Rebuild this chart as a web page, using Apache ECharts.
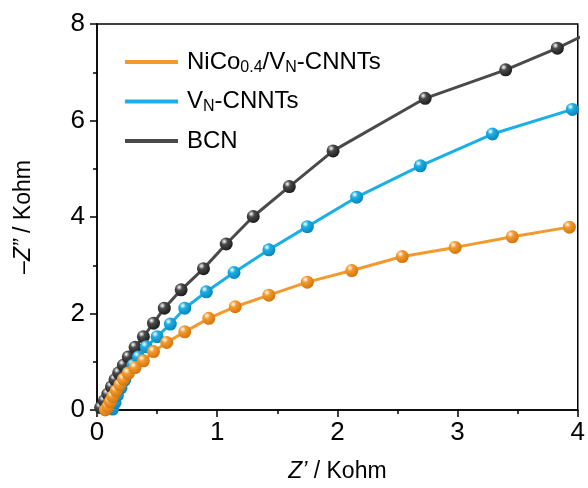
<!DOCTYPE html>
<html>
<head>
<meta charset="utf-8">
<script src="https://cdn.jsdelivr.net/npm/echarts@6/dist/echarts.min.js"></script>
<style>
  html, body { margin: 0; padding: 0; background: #fff; }
  #chart { width: 588px; height: 488px; }
</style>
</head>
<body>
<div id="chart"></div>
<script>
// Nyquist data (Kohm)
const bcnX = [0.03, 0.06, 0.09, 0.12, 0.15, 0.18, 0.22, 0.26, 0.317, 0.386, 0.47, 0.56, 0.70, 0.886, 1.075, 1.30, 1.60, 1.964, 2.73, 3.40, 3.83, 4.2];
const bcnY = [0.05, 0.19, 0.33, 0.48, 0.63, 0.77, 0.93, 1.10, 1.30, 1.52, 1.80, 2.11, 2.49, 2.93, 3.44, 4.01, 4.63, 5.37, 6.46, 7.05, 7.50, 7.95];

const vnX = [0.13, 0.15, 0.17, 0.20, 0.23, 0.26, 0.30, 0.345, 0.41, 0.50, 0.61, 0.73, 0.91, 1.14, 1.43, 1.75, 2.16, 2.69, 3.29, 3.955];
const vnY = [0.02, 0.15, 0.30, 0.46, 0.62, 0.77, 0.93, 1.10, 1.31, 1.52, 1.78, 2.11, 2.45, 2.85, 3.32, 3.80, 4.41, 5.06, 5.72, 6.23];

const nicoX = [0.07, 0.09, 0.11, 0.13, 0.16, 0.19, 0.22, 0.26, 0.317, 0.386, 0.47, 0.58, 0.73, 0.93, 1.15, 1.43, 1.75, 2.12, 2.54, 2.98, 3.455, 3.93];
const nicoY = [0.00, 0.07, 0.17, 0.28, 0.40, 0.52, 0.64, 0.76, 0.88, 1.02, 1.21, 1.40, 1.62, 1.90, 2.14, 2.38, 2.65, 2.89, 3.18, 3.37, 3.59, 3.79];

const xTicks = [0, 1, 2, 3, 4];
const yTicks = [0, 2, 4, 6, 8];

const font = 'Liberation Sans, Arial, sans-serif';

const pairs = (xs, ys) => xs.map((x, i) => [x, ys[i]]);

const ball = (base, dark) => new echarts.graphic.RadialGradient(0.35, 0.3, 0.7, [
    { offset: 0, color: '#ffffff' },
    { offset: 0.35, color: base },
    { offset: 1, color: dark },
]);

const makeSeries = (name, data, color, dark, z) => ({
    name: name,
    type: 'line',
    data: data,
    z: z,
    symbol: 'circle',
    symbolSize: 13,
    showSymbol: true,
    lineStyle: { color: color, width: 3 },
    itemStyle: { color: ball(color, dark), borderWidth: 0 },
    emphasis: { disabled: true },
    clip: true,
});

const italic = { fontStyle: 'italic', fontSize: 23, fontFamily: font, color: '#000' };

const chart = echarts.init(document.getElementById('chart'));
chart.setOption({
    animation: false,
    backgroundColor: '#fff',
    grid: { left: 97, right: 10, top: 24, bottom: 78, show: true, borderColor: '#000', borderWidth: 1.5, backgroundColor: 'transparent' },
    legend: {
        orient: 'vertical',
        left: 125,
        top: 50,
        padding: 0,
        itemWidth: 53,
        itemHeight: 4,
        itemGap: 14,
        icon: 'rect',
        data: [
            { name: 'NiCo', itemStyle: { color: '#f39a2e' } },
            { name: 'VN', itemStyle: { color: '#1aafe6' } },
            { name: 'BCN', itemStyle: { color: '#4a4a4a' } },
        ],
        formatter: n => ({
            NiCo: '{n|NiCo}{s|0.4}{n|/V}{s|N}{n|-CNNTs}',
            VN: '{n|V}{s|N}{n|-CNNTs}',
            BCN: '{n|BCN}',
        }[n]),
        textStyle: {
            fontFamily: font,
            color: '#000',
            padding: [0, 0, 0, 4],
            rich: {
                n: { fontSize: 24, fontFamily: font, color: '#000' },
                s: { fontSize: 16, fontFamily: font, color: '#000', padding: [11, 0, 0, 0] },
            },
        },
    },
    xAxis: {
        type: 'value',
        min: 0,
        max: 4,
        interval: 1,
        name: '{i|Z’} / Kohm',
        nameLocation: 'middle',
        nameGap: 50,
        nameTextStyle: { fontFamily: font, fontSize: 23, color: '#000', rich: { i: italic } },
        axisLine: { onZero: false, lineStyle: { color: '#000', width: 1.5 } },
        axisTick: { show: true, inside: false, length: 7, lineStyle: { color: '#000', width: 1.5 } },
        minorTick: { show: true, splitNumber: 2, length: 4, lineStyle: { color: '#000', width: 1.5 } },
        axisLabel: { fontFamily: font, fontSize: 26, color: '#000', margin: 10, formatter: v => xTicks.includes(v) ? String(v) : '' },
        splitLine: { show: false },
    },
    yAxis: {
        type: 'value',
        min: 0,
        max: 8,
        interval: 2,
        name: '–{i|Z”} / Kohm',
        nameLocation: 'middle',
        nameGap: 62,
        nameRotate: 90,
        nameTextStyle: { fontFamily: font, fontSize: 23, color: '#000', rich: { i: italic } },
        axisLine: { onZero: false, lineStyle: { color: '#000', width: 1.5 } },
        axisTick: { show: true, inside: false, length: 7, lineStyle: { color: '#000', width: 1.5 } },
        minorTick: { show: true, splitNumber: 2, length: 4, lineStyle: { color: '#000', width: 1.5 } },
        axisLabel: { fontFamily: font, fontSize: 26, color: '#000', margin: 12, formatter: v => yTicks.includes(v) ? String(v) : '' },
        splitLine: { show: false },
    },
    series: [
        makeSeries('BCN', pairs(bcnX, bcnY), '#4a4a4a', '#1e1e1e', 2),
        makeSeries('VN', pairs(vnX, vnY), '#1aafe6', '#0b86b8', 3),
        makeSeries('NiCo', pairs(nicoX, nicoY), '#f39a2e', '#d4760e', 4),
    ],
});
</script>
</body>
</html>
